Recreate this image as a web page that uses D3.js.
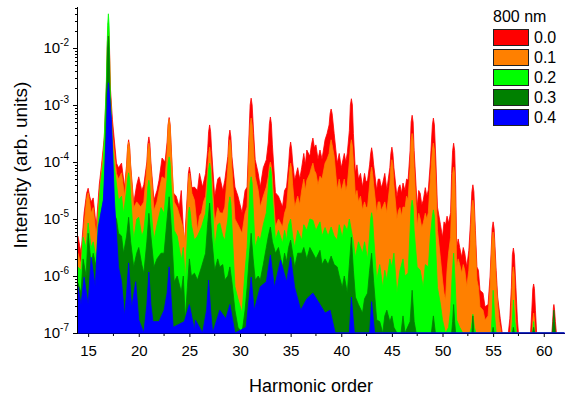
<!DOCTYPE html>
<html>
<head>
<meta charset="utf-8">
<script src="https://cdn.jsdelivr.net/npm/d3@7"></script>
<style>
  body { margin: 0; background: #fff; }
  text { font-family: "Liberation Sans", Arial, sans-serif; fill: #000; }
</style>
</head>
<body>
<script>
// spectra: [harmonic order, log10 intensity]
var s00 = [[14.0,-5.3],[14.3,-5.6],[14.6,-4.9],[14.85,-4.55],[15.0,-4.46],[15.15,-4.6],[15.3,-4.7],[15.5,-4.63],[15.8,-5.14],[16.1,-4.4],[16.3,-4.09],[16.6,-3.56],[16.8,-2.7],[16.9,-1.9],[17.0,-1.56],[17.1,-1.9],[17.2,-2.7],[17.4,-3.26],[17.8,-4.02],[18.0,-4.1],[18.3,-4.02],[18.6,-4.44],[18.8,-4.05],[18.9,-3.73],[19.0,-3.61],[19.1,-3.73],[19.2,-4.05],[19.5,-4.72],[19.8,-4.4],[20.0,-4.26],[20.3,-4.5],[20.5,-4.4],[20.8,-4.0],[20.9,-3.68],[21.0,-3.56],[21.1,-3.68],[21.2,-4.0],[21.5,-4.67],[21.8,-4.5],[22.0,-4.32],[22.3,-3.93],[22.6,-4.0],[22.8,-3.65],[22.9,-3.34],[23.0,-3.22],[23.1,-3.34],[23.2,-3.7],[23.4,-4.54],[23.7,-4.6],[24.0,-4.79],[24.2,-4.5],[24.5,-5.5],[24.8,-4.55],[24.9,-4.2],[25.0,-4.09],[25.1,-4.2],[25.25,-4.45],[25.5,-4.44],[25.8,-4.5],[26.0,-4.2],[26.3,-4.44],[26.6,-4.2],[26.8,-3.8],[26.9,-3.47],[27.0,-3.35],[27.1,-3.47],[27.2,-3.8],[27.5,-4.61],[27.8,-4.3],[28.0,-4.26],[28.3,-4.5],[28.5,-4.32],[28.8,-3.9],[28.9,-3.56],[29.0,-3.44],[29.1,-3.56],[29.2,-3.9],[29.5,-4.44],[29.8,-4.6],[30.2,-4.89],[30.5,-4.5],[30.7,-4.44],[30.85,-3.7],[31.0,-3.0],[31.1,-2.88],[31.2,-3.0],[31.35,-3.5],[31.5,-3.96],[31.8,-4.2],[32.0,-4.44],[32.3,-4.1],[32.6,-3.96],[32.8,-3.65],[32.9,-3.33],[33.0,-3.21],[33.1,-3.33],[33.2,-3.7],[33.5,-4.54],[33.8,-4.6],[34.2,-4.79],[34.4,-4.5],[34.6,-4.44],[34.8,-4.05],[34.9,-3.77],[35.0,-3.65],[35.1,-3.77],[35.2,-4.0],[35.4,-4.32],[35.7,-4.1],[35.9,-4.3],[36.1,-4.09],[36.3,-3.85],[36.45,-4.05],[36.6,-3.79],[36.9,-3.9],[37.05,-3.7],[37.2,-3.58],[37.35,-3.75],[37.5,-3.7],[37.7,-3.95],[37.9,-3.79],[38.1,-3.95],[38.4,-3.61],[38.6,-3.5],[38.8,-3.35],[38.9,-3.15],[39.0,-3.07],[39.1,-3.15],[39.3,-3.5],[39.6,-4.02],[39.8,-3.85],[40.0,-4.1],[40.1,-4.02],[40.3,-3.85],[40.45,-4.0],[40.6,-3.84],[40.8,-3.45],[40.9,-3.0],[41.0,-2.89],[41.1,-3.0],[41.2,-3.5],[41.4,-4.19],[41.55,-4.05],[41.7,-4.3],[41.9,-4.2],[42.1,-4.44],[42.3,-4.2],[42.45,-4.35],[42.6,-4.32],[42.8,-4.05],[42.9,-3.86],[43.0,-3.75],[43.1,-3.86],[43.2,-4.05],[43.5,-4.49],[43.65,-4.3],[43.8,-4.3],[43.95,-4.45],[44.1,-4.37],[44.3,-4.2],[44.5,-4.49],[44.8,-4.1],[44.9,-3.85],[45.0,-3.74],[45.1,-3.85],[45.2,-4.1],[45.5,-4.61],[45.65,-4.45],[45.8,-4.4],[45.95,-4.55],[46.1,-4.37],[46.3,-4.5],[46.45,-4.3],[46.6,-4.32],[46.8,-3.8],[46.9,-3.3],[47.0,-3.18],[47.1,-3.3],[47.2,-3.8],[47.5,-4.79],[47.65,-4.5],[47.8,-4.55],[47.95,-4.75],[48.1,-4.67],[48.3,-4.45],[48.45,-4.6],[48.6,-4.49],[48.8,-4.0],[49.0,-3.35],[49.1,-3.23],[49.2,-3.35],[49.35,-4.0],[49.5,-4.79],[49.8,-5.1],[50.0,-5.32],[50.15,-5.05],[50.3,-5.1],[50.45,-4.95],[50.6,-5.07],[50.8,-4.89],[50.9,-4.2],[51.0,-3.8],[51.1,-3.67],[51.2,-3.8],[51.3,-4.4],[51.4,-5.5],[51.55,-5.35],[51.7,-5.5],[51.9,-5.67],[52.05,-5.5],[52.2,-5.6],[52.4,-5.84],[52.6,-5.55],[52.75,-5.1],[52.9,-4.52],[53.0,-4.4],[53.1,-4.52],[53.25,-5.2],[53.4,-5.84],[53.55,-5.9],[53.7,-6.25],[54.0,-6.3],[54.2,-6.54],[54.5,-6.5],[54.7,-6.0],[54.9,-5.17],[55.0,-5.05],[55.1,-5.17],[55.3,-5.9],[55.45,-6.37],[55.7,-6.74],[55.9,-7],[56.5,-7],[56.65,-6.75],[56.8,-6.2],[56.9,-5.63],[57.0,-5.51],[57.1,-5.63],[57.25,-6.2],[57.4,-6.77],[57.5,-7],[58.7,-7],[58.82,-6.6],[58.92,-6.22],[59.0,-6.14],[59.08,-6.22],[59.18,-6.6],[59.3,-7],[60.8,-7],[60.88,-6.8],[60.95,-6.56],[61.0,-6.5],[61.05,-6.56],[61.15,-6.8],[61.25,-7],[62,-7]];
var s01 = [[14.0,-5.6],[14.3,-5.8],[14.6,-5.1],[14.85,-4.65],[15.0,-4.54],[15.15,-4.7],[15.3,-4.9],[15.5,-4.8],[15.8,-5.3],[16.1,-4.6],[16.3,-4.2],[16.6,-3.67],[16.8,-2.8],[16.9,-2.0],[17.0,-1.65],[17.1,-2.0],[17.2,-2.8],[17.4,-3.5],[17.8,-4.2],[18.0,-4.3],[18.3,-4.19],[18.6,-4.6],[18.8,-4.1],[18.9,-3.77],[19.0,-3.65],[19.1,-3.77],[19.2,-4.1],[19.5,-4.8],[19.8,-4.7],[20.2,-4.79],[20.5,-4.7],[20.8,-4.1],[20.9,-3.79],[21.0,-3.67],[21.1,-3.79],[21.2,-4.1],[21.5,-4.85],[21.8,-4.7],[22.0,-4.5],[22.3,-4.26],[22.6,-4.3],[22.8,-3.8],[22.9,-3.37],[23.0,-3.25],[23.1,-3.37],[23.2,-3.8],[23.5,-4.7],[23.8,-4.8],[24.3,-5.1],[24.6,-5.4],[24.8,-4.7],[24.9,-4.32],[25.0,-4.2],[25.1,-4.32],[25.25,-4.55],[25.5,-4.67],[25.8,-5.2],[26.0,-4.95],[26.2,-4.89],[26.4,-4.7],[26.6,-4.6],[26.8,-4.15],[26.9,-3.86],[27.0,-3.74],[27.1,-3.86],[27.2,-4.2],[27.5,-5.07],[27.8,-4.8],[28.0,-4.89],[28.3,-4.9],[28.5,-4.79],[28.8,-4.1],[28.9,-3.73],[29.0,-3.61],[29.1,-3.73],[29.2,-4.1],[29.5,-5.0],[29.8,-5.1],[30.2,-5.25],[30.5,-4.9],[30.7,-4.79],[30.85,-4.0],[31.0,-3.35],[31.1,-3.23],[31.2,-3.35],[31.35,-3.8],[31.5,-4.26],[31.8,-4.5],[32.0,-4.79],[32.3,-4.6],[32.6,-4.44],[32.8,-4.25],[32.9,-4.08],[33.0,-4.0],[33.1,-4.08],[33.2,-4.3],[33.5,-5.14],[33.8,-5.0],[34.2,-5.14],[34.4,-4.9],[34.6,-4.79],[34.8,-4.35],[34.9,-4.12],[35.0,-4.02],[35.1,-4.12],[35.2,-4.4],[35.4,-4.79],[35.7,-4.6],[35.9,-4.75],[36.1,-4.49],[36.3,-4.3],[36.45,-4.5],[36.6,-4.32],[36.9,-4.2],[37.05,-4.1],[37.2,-4.02],[37.35,-4.15],[37.5,-4.2],[37.7,-4.4],[37.9,-4.25],[38.1,-4.3],[38.4,-4.02],[38.6,-3.95],[38.8,-3.85],[38.9,-3.7],[39.0,-3.61],[39.1,-3.7],[39.3,-3.9],[39.6,-4.49],[39.8,-4.3],[40.0,-4.5],[40.1,-4.44],[40.3,-4.3],[40.45,-4.5],[40.6,-4.4],[40.8,-4.0],[40.9,-3.72],[41.0,-3.61],[41.1,-3.72],[41.2,-4.0],[41.4,-4.61],[41.55,-4.5],[41.7,-4.7],[41.9,-4.6],[42.1,-4.84],[42.3,-4.7],[42.45,-4.8],[42.6,-4.79],[42.8,-4.4],[42.9,-4.2],[43.0,-4.09],[43.1,-4.2],[43.2,-4.4],[43.5,-4.89],[43.65,-4.7],[43.8,-4.7],[43.95,-4.85],[44.1,-4.79],[44.3,-4.7],[44.5,-4.89],[44.8,-4.4],[44.9,-4.08],[45.0,-3.96],[45.1,-4.08],[45.2,-4.4],[45.5,-5.0],[45.65,-4.85],[45.8,-4.8],[45.95,-4.95],[46.1,-4.79],[46.3,-4.8],[46.45,-4.6],[46.6,-4.67],[46.8,-4.1],[46.9,-3.62],[47.0,-3.5],[47.1,-3.62],[47.2,-4.1],[47.5,-5.14],[47.65,-4.9],[47.8,-5.0],[47.95,-5.15],[48.1,-5.07],[48.3,-4.9],[48.45,-5.0],[48.6,-4.89],[48.8,-4.3],[49.0,-3.79],[49.1,-3.67],[49.2,-3.79],[49.35,-4.4],[49.5,-5.2],[49.8,-5.7],[50.0,-6.07],[50.15,-6.3],[50.3,-6.42],[50.45,-5.9],[50.6,-5.6],[50.8,-5.32],[50.9,-4.7],[51.0,-4.21],[51.1,-4.09],[51.2,-4.21],[51.3,-4.9],[51.4,-5.84],[51.55,-5.7],[51.7,-5.8],[51.9,-5.95],[52.05,-5.8],[52.2,-5.9],[52.4,-6.19],[52.6,-5.9],[52.75,-5.4],[52.9,-4.79],[53.0,-4.67],[53.1,-4.79],[53.25,-5.4],[53.4,-6.07],[53.55,-6.2],[53.7,-6.54],[54.0,-6.6],[54.2,-6.77],[54.5,-6.7],[54.7,-6.2],[54.9,-5.35],[55.0,-5.23],[55.1,-5.35],[55.3,-6.1],[55.45,-6.5],[55.6,-6.8],[55.8,-7],[56.7,-7],[56.82,-6.5],[56.92,-5.96],[57.0,-5.84],[57.08,-5.96],[57.18,-6.5],[57.3,-7],[58.85,-7],[58.93,-6.75],[59.0,-6.65],[59.07,-6.75],[59.15,-7],[60.9,-7],[61.0,-6.75],[61.1,-7],[62,-7]];
var s02 = [[14.0,-5.84],[14.3,-5.9],[14.5,-5.32],[14.8,-5.5],[15.0,-5.07],[15.3,-5.5],[15.5,-5.4],[15.8,-5.7],[16.0,-5.0],[16.2,-4.44],[16.5,-4.0],[16.8,-2.6],[16.93,-1.6],[17.0,-1.40],[17.07,-1.6],[17.15,-2.6],[17.4,-3.7],[17.6,-4.1],[18.0,-4.67],[18.3,-4.6],[18.5,-4.9],[18.8,-4.5],[18.9,-4.3],[19.0,-4.19],[19.1,-4.3],[19.2,-4.6],[19.5,-5.37],[19.8,-5.0],[20.0,-4.97],[20.3,-5.3],[20.5,-5.2],[20.8,-4.7],[20.9,-4.43],[21.0,-4.32],[21.1,-4.43],[21.2,-4.8],[21.5,-5.37],[21.8,-5.1],[22.2,-4.8],[22.5,-4.9],[22.8,-4.3],[22.9,-4.02],[23.0,-3.91],[23.1,-4.02],[23.2,-4.4],[23.5,-5.2],[23.8,-5.3],[24.2,-5.72],[24.4,-5.5],[24.6,-6.07],[24.8,-5.3],[24.9,-4.9],[25.0,-4.79],[25.1,-4.9],[25.2,-5.1],[25.5,-5.37],[25.8,-5.3],[26.2,-5.14],[26.6,-4.9],[26.8,-4.4],[26.9,-4.13],[27.0,-4.02],[27.1,-4.13],[27.2,-4.5],[27.5,-5.5],[27.8,-5.1],[28.0,-5.07],[28.3,-5.3],[28.5,-5.37],[28.8,-5.0],[28.9,-4.72],[29.0,-4.61],[29.1,-4.72],[29.2,-5.1],[29.5,-6.19],[29.8,-6.4],[30.2,-6.65],[30.5,-5.9],[30.7,-5.5],[30.9,-4.75],[31.0,-4.37],[31.1,-4.26],[31.2,-4.37],[31.3,-4.8],[31.5,-5.5],[31.8,-5.3],[32.0,-5.37],[32.3,-5.1],[32.6,-4.89],[32.8,-4.45],[32.9,-4.2],[33.0,-4.09],[33.1,-4.2],[33.2,-4.6],[33.5,-5.37],[33.8,-5.2],[34.2,-5.42],[34.4,-5.2],[34.6,-5.37],[34.8,-5.1],[35.0,-5.0],[35.2,-5.3],[35.4,-5.5],[35.7,-5.2],[36.1,-5.37],[36.3,-5.1],[36.6,-5.2],[36.9,-5.0],[37.2,-5.02],[37.5,-5.2],[37.9,-5.05],[38.1,-5.3],[38.4,-5.15],[38.7,-5.3],[39.0,-5.14],[39.3,-5.3],[39.6,-5.37],[39.8,-5.1],[40.1,-5.32],[40.3,-5.1],[40.6,-5.2],[40.8,-5.0],[41.0,-5.2],[41.2,-5.4],[41.4,-5.67],[41.7,-5.4],[42.1,-5.6],[42.3,-5.4],[42.6,-5.7],[42.8,-5.3],[42.9,-5.0],[43.0,-4.89],[43.1,-5.0],[43.2,-5.3],[43.5,-6.07],[43.8,-5.8],[44.1,-6.2],[44.3,-5.9],[44.5,-6.07],[44.8,-5.7],[45.0,-5.84],[45.2,-5.6],[45.5,-6.3],[45.8,-5.9],[46.1,-5.7],[46.3,-6.0],[46.6,-5.95],[46.8,-5.2],[46.9,-4.78],[47.0,-4.67],[47.1,-4.78],[47.2,-5.2],[47.5,-5.84],[47.8,-5.9],[48.1,-6.2],[48.3,-5.8],[48.6,-5.84],[48.8,-5.3],[49.0,-4.95],[49.1,-4.84],[49.2,-4.95],[49.3,-5.4],[49.5,-6.2],[49.8,-6.5],[50.0,-6.77],[50.3,-7],[50.6,-6.9],[50.8,-6.6],[50.95,-6.0],[51.1,-5.6],[51.25,-6.1],[51.4,-6.77],[51.7,-6.9],[52.0,-7],[52.7,-7],[52.85,-6.9],[53.0,-6.67],[53.15,-6.9],[53.3,-7],[54.8,-7],[54.9,-6.7],[55.0,-6.25],[55.15,-6.7],[55.3,-7],[56.8,-7],[56.9,-6.8],[57.0,-6.42],[57.15,-6.8],[57.3,-7],[58.9,-7],[59.0,-6.8],[59.1,-7],[62,-7]];
var s03 = [[14.0,-6.12],[14.3,-6.3],[14.5,-5.7],[14.8,-6.0],[15.0,-5.25],[15.3,-5.8],[15.5,-5.6],[15.8,-5.84],[16.0,-5.3],[16.3,-4.89],[16.6,-4.6],[16.8,-3.0],[16.93,-2.0],[17.0,-1.79],[17.07,-2.0],[17.15,-2.8],[17.4,-4.0],[17.5,-4.9],[17.8,-5.0],[18.0,-5.25],[18.3,-5.3],[18.5,-5.6],[18.8,-5.3],[19.0,-4.97],[19.2,-5.4],[19.5,-5.84],[19.8,-5.6],[20.0,-5.5],[20.3,-5.8],[20.5,-5.95],[20.8,-5.4],[21.0,-4.9],[21.2,-5.3],[21.5,-5.84],[21.8,-5.7],[22.2,-5.6],[22.5,-5.6],[22.8,-5.0],[23.0,-4.61],[23.2,-5.1],[23.5,-6.1],[23.8,-6.0],[24.2,-6.28],[24.4,-6.0],[24.6,-6.77],[24.8,-6.2],[25.0,-5.7],[25.2,-6.0],[25.5,-5.95],[25.8,-6.07],[26.2,-5.84],[26.6,-5.6],[26.8,-5.1],[27.0,-4.72],[27.2,-5.3],[27.5,-5.9],[27.8,-5.7],[28.0,-5.84],[28.3,-5.8],[28.5,-6.07],[28.8,-6.0],[29.0,-5.84],[29.2,-6.1],[29.5,-6.6],[29.8,-6.9],[30.2,-7],[30.5,-6.6],[30.7,-6.2],[30.9,-5.7],[31.1,-5.25],[31.3,-5.7],[31.5,-6.07],[31.8,-6.0],[32.0,-6.07],[32.3,-5.8],[32.6,-5.5],[32.8,-5.3],[33.0,-5.14],[33.2,-5.4],[33.5,-5.6],[33.8,-5.5],[34.2,-5.84],[34.4,-5.6],[34.6,-5.75],[34.8,-5.5],[35.0,-5.37],[35.2,-5.6],[35.4,-5.84],[35.7,-5.6],[36.1,-5.6],[36.3,-5.5],[36.6,-5.7],[36.9,-5.5],[37.2,-5.6],[37.5,-5.7],[37.9,-5.55],[38.1,-5.8],[38.4,-5.7],[38.7,-5.8],[39.0,-5.65],[39.3,-5.8],[39.6,-5.84],[39.8,-6.0],[40.1,-6.2],[40.3,-6.0],[40.6,-6.3],[40.8,-5.8],[41.0,-5.32],[41.2,-5.9],[41.4,-6.37],[41.7,-6.5],[42.1,-6.65],[42.3,-6.4],[42.6,-6.3],[42.8,-5.9],[43.0,-5.6],[43.2,-6.1],[43.5,-6.77],[43.8,-6.8],[44.1,-7],[44.3,-6.7],[44.5,-6.6],[44.8,-6.8],[45.0,-6.7],[45.2,-6.9],[45.5,-7],[45.9,-7],[46.1,-6.7],[46.3,-7],[46.8,-6.8],[47.0,-6.25],[47.2,-6.8],[47.4,-7],[48.9,-7],[49.1,-6.7],[49.3,-7],[50.9,-7],[51.0,-6.8],[51.1,-6.5],[51.2,-6.8],[51.3,-7],[52.9,-7],[53.0,-6.7],[53.1,-7],[54.9,-7],[55.0,-6.9],[55.1,-7],[56.9,-7],[57.0,-6.9],[57.1,-7],[58.9,-7],[59.0,-6.9],[59.1,-7],[60.85,-7],[61.0,-6.6],[61.15,-7],[62,-7]];
var s04 = [[14.0,-6.19],[14.3,-6.5],[14.6,-6.02],[15.0,-6.5],[15.3,-5.67],[15.7,-6.19],[16.0,-5.14],[16.5,-4.67],[16.8,-3.5],[16.92,-2.8],[17.0,-2.61],[17.1,-2.8],[17.3,-3.26],[17.6,-4.67],[18.0,-5.84],[18.3,-6.1],[18.6,-6.7],[18.8,-6.3],[19.0,-5.77],[19.3,-6.56],[19.7,-6.1],[20.0,-6.77],[20.5,-7],[20.8,-6.5],[21.0,-5.93],[21.2,-6.5],[21.4,-6.8],[22.0,-6.8],[22.5,-6.6],[22.8,-6.3],[23.0,-5.84],[23.2,-6.4],[23.4,-6.9],[24.5,-6.8],[25.0,-6.5],[25.5,-6.95],[25.6,-6.77],[26.3,-7],[26.7,-6.6],[26.9,-6.07],[27.1,-6.6],[27.3,-7],[28.0,-6.6],[28.6,-6.75],[29.0,-6.5],[29.5,-7],[30.6,-6.9],[30.9,-6.4],[31.1,-6.02],[31.4,-6.6],[32.0,-6.19],[32.6,-6.1],[33.0,-5.63],[33.4,-6.2],[34.0,-5.72],[34.6,-6.1],[35.0,-5.67],[35.4,-6.2],[36.0,-6.6],[36.6,-6.4],[37.2,-6.3],[37.9,-6.5],[38.4,-6.65],[38.9,-6.6],[39.4,-7],[40.8,-7],[41.0,-6.37],[41.3,-7],[42.8,-7],[43.0,-6.45],[43.3,-7],[62,-7]];

var seriesNames = ["0.0", "0.1", "0.2", "0.3", "0.4"];
var seriesData = [s00, s01, s02, s03, s04];
var seriesColors = ["#ff0000", "#ff8000", "#00ff00", "#008000", "#0000ff"];
var legendTitle = "800 nm";
var xMajorTicks = [15, 20, 25, 30, 35, 40, 45, 50, 55, 60];
var xMinorTicks = [17.5, 22.5, 27.5, 32.5, 37.5, 42.5, 47.5, 52.5, 57.5];
var yDecades = [-7, -6, -5, -4, -3, -2];

var width = 565, height = 396;
var margin = {top: 7, right: 1, bottom: 63, left: 78};

var svg = d3.select("body").append("svg")
	.attr("width", width)
	.attr("height", height);

var x = d3.scaleLinear().domain([14, 62]).range([margin.left, width - margin.right]);
var y = d3.scaleLog().domain([1e-7, 0.0524]).range([height - margin.bottom, margin.top]);

var area = d3.area()
	.x(function(d) { return x(d[0]); })
	.y0(y(1e-7))
	.y1(function(d) { return y(Math.pow(10, d[1])); });

var line = d3.line()
	.x(function(d) { return x(d[0]); })
	.y(function(d) { return y(Math.pow(10, d[1])); });

var plot = svg.append("g");

seriesData.forEach(function(s, i) {
	plot.append("path")
		.datum(s)
		.attr("fill", seriesColors[i])
		.attr("d", area);
	plot.append("path")
		.datum(s)
		.attr("fill", "none")
		.attr("stroke", seriesColors[i])
		.attr("stroke-width", 0.8)
		.attr("stroke-linejoin", "round")
		.attr("d", line);
});

// axes
var y0 = y(1e-7);

var xAxis = d3.axisBottom(x).tickValues(xMajorTicks).tickSize(4).tickPadding(8).tickFormat(d3.format("d"));
var gx = svg.append("g")
	.attr("transform", "translate(0," + y0 + ")")
	.call(xAxis);
gx.select(".domain").remove();
gx.selectAll("text").attr("font-size", "15px").attr("font-family", "Liberation Sans, Arial, sans-serif");

svg.append("g")
	.attr("transform", "translate(0," + y0 + ")")
	.selectAll("line").data(xMinorTicks).enter().append("line")
	.attr("x1", function(d) { return x(d); })
	.attr("x2", function(d) { return x(d); })
	.attr("y1", 0).attr("y2", 3)
	.attr("stroke", "#000");

svg.append("line")
	.attr("x1", margin.left).attr("x2", width)
	.attr("y1", y0 + 0.5).attr("y2", y0 + 0.5)
	.attr("stroke", "#000");

var yMinor = [];
yDecades.forEach(function(e) {
	for (var k = 2; k <= 9; k++) {
		var v = k * Math.pow(10, e);
		if (v <= 0.0524) yMinor.push(v);
	}
});

var yAxis = d3.axisLeft(y).tickValues(yDecades.map(function(e) { return Math.pow(10, e); })).tickSize(5).tickFormat("");
var gy = svg.append("g")
	.attr("transform", "translate(" + margin.left + ",0)")
	.call(yAxis);
gy.select(".domain").remove();

svg.append("g")
	.attr("transform", "translate(" + margin.left + ",0)")
	.selectAll("line").data(yMinor).enter().append("line")
	.attr("x1", -3).attr("x2", 0)
	.attr("y1", function(d) { return Math.round(y(d)) + 0.5; })
	.attr("y2", function(d) { return Math.round(y(d)) + 0.5; })
	.attr("stroke", "#000");

svg.append("line")
	.attr("x1", margin.left - 0.5).attr("x2", margin.left - 0.5)
	.attr("y1", margin.top).attr("y2", y0 + 1)
	.attr("stroke", "#000");

// blue baseline of the front series sits on the x axis
svg.append("line")
	.attr("x1", margin.left).attr("x2", width)
	.attr("y1", y0).attr("y2", y0)
	.attr("stroke", seriesColors[4])
	.attr("stroke-width", 1.2);

// y tick labels 10^n
var ylab = svg.append("g");
yDecades.forEach(function(e) {
	var t = ylab.append("text")
		.attr("x", 69)
		.attr("y", y(Math.pow(10, e)) + 5)
		.attr("text-anchor", "end")
		.attr("font-size", "15px");
	t.append("tspan").text("10");
	t.append("tspan").attr("font-size", "10px").attr("dy", "-7").text("-" + (-e));
});

// axis titles
svg.append("text")
	.attr("transform", "translate(27,165) rotate(-90)")
	.attr("text-anchor", "middle")
	.attr("font-size", "19px")
	.text("Intensity (arb. units)");

svg.append("text")
	.attr("x", 311)
	.attr("y", 392)
	.attr("text-anchor", "middle")
	.attr("font-size", "18px")
	.text("Harmonic order");

// legend
var legend = svg.append("g").attr("transform", "translate(493,0)");
legend.append("text")
	.attr("x", 0).attr("y", 22)
	.attr("font-size", "16px")
	.text(legendTitle);

seriesNames.forEach(function(name, i) {
	var row = legend.append("g").attr("transform", "translate(0," + (29 + i * 20) + ")");
	row.append("rect")
		.attr("x", 0.5).attr("y", 0.5)
		.attr("width", 35).attr("height", 16)
		.attr("fill", seriesColors[i])
		.attr("stroke", "#222");
	row.append("text")
		.attr("x", 41).attr("y", 14)
		.attr("font-size", "16px")
		.text(name);
});
</script>
</body>
</html>
